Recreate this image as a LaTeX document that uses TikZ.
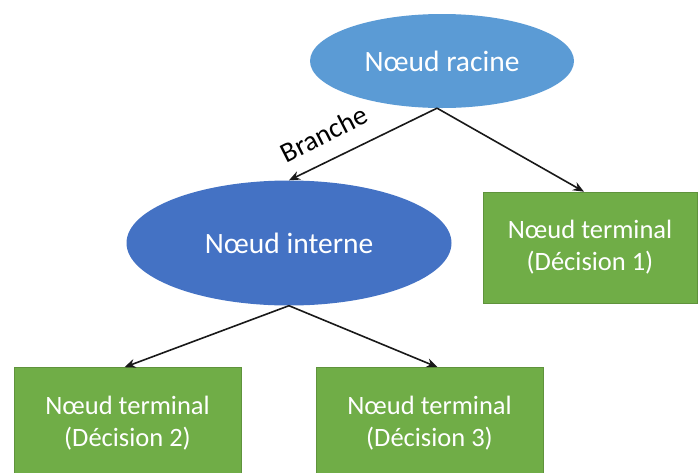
\documentclass[tikz,border=0pt]{standalone}
\usepackage{fontspec}
\setmainfont{Carlito}
\usetikzlibrary{shapes.geometric,arrows.meta}
\definecolor{rootblue}{HTML}{5B9BD5}
\definecolor{intblue}{HTML}{4472C4}
\definecolor{leafgreen}{HTML}{70AD47}
\begin{document}
\begin{tikzpicture}[x=1pt,y=-1pt,
  ovalnode/.style={ellipse,inner sep=0pt,text=white,font=\fontsize{29.5}{34}\selectfont},
  leafbox/.style={rectangle,fill=leafgreen,draw=leafgreen!85!black,line width=0.6pt,inner sep=0pt,text=white,align=center,font=\fontsize{26.5}{32}\selectfont,minimum height=111pt},
  conn/.style={-{Stealth[length=11pt,width=9pt]},line width=1.6pt,black!90}]
\useasboundingbox (0,0) rectangle (699,472);
\clip (0,0) rectangle (699,472);
\fill[white] (0,0) rectangle (699,472);
\node[ovalnode,fill=rootblue,minimum width=264pt,minimum height=94pt] (root) at (442,61) {Nœud racine};
\node[ovalnode,fill=intblue,minimum width=325pt,minimum height=125pt] (int) at (289,243) {Nœud interne};
\node[leafbox,minimum width=214pt] (t1) at (590,247.5) {Nœud terminal\\(Décision 1)};
\node[leafbox,minimum width=227pt] (t2) at (127.5,423) {Nœud terminal\\(Décision 2)};
\node[leafbox,minimum width=227pt] (t3) at (429.5,423) {Nœud terminal\\(Décision 3)};
\draw[conn] (root.264) -- (int.north);
\draw[conn] (root.264) -- ([xshift=-6pt]t1.north);
\draw[conn] (int.south) -- ([xshift=-3pt]t2.north);
\draw[conn] (int.south) -- ([xshift=8pt]t3.north);
\node[rotate=27,font=\fontsize{28}{32}\selectfont,inner sep=0pt] (br) at (324,134) {Branche};
\end{tikzpicture}
\end{document}
